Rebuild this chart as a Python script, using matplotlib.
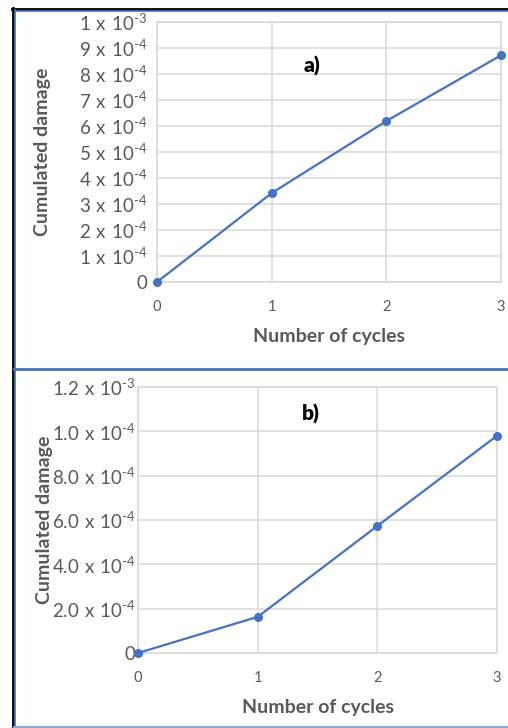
import matplotlib
matplotlib.use("Agg")
import matplotlib.pyplot as plt
from matplotlib.lines import Line2D

plt.rcParams['font.family'] = ['Lato', 'DejaVu Sans']
plt.rcParams['mathtext.fontset'] = 'custom'
plt.rcParams['mathtext.rm'] = 'Lato'
plt.rcParams['mathtext.default'] = 'regular'

# Data
cycles = [0, 1, 2, 3]
damage_a = [0.0, 3.42e-4, 6.19e-4, 8.72e-4]
damage_b = [0.0, 1.63e-4, 5.73e-4, 9.80e-4]


def sci(mant, exp):
    return r'$%s\ x\ 10^{\text{-}%d}$' % (mant, exp)


x_ticks = [0, 1, 2, 3]
y_ticks_a = [0, 1e-4, 2e-4, 3e-4, 4e-4, 5e-4, 6e-4, 7e-4, 8e-4, 9e-4, 1e-3]
y_labels_a = ['0'] + [sci(k, 4) for k in range(1, 10)] + [sci(1, 3)]
y_ticks_b = [0, 2e-4, 4e-4, 6e-4, 8e-4, 1.0e-3, 1.2e-3]
y_labels_b = ['0', sci('2.0', 4), sci('4.0', 4), sci('6.0', 4), sci('8.0', 4),
              sci('1.0', 4), sci('1.2', 3)]

W, H = 508, 728
fig = plt.figure(figsize=(W / 100, H / 100), dpi=100)

LINE = '#4472c4'
GRID = '#d9d9d9'
TEXT = '#595959'


def px_axes(left, top, right, bottom):
    return fig.add_axes([left / W, 1 - bottom / H, (right - left) / W, (bottom - top) / H])


def style(ax, y, yt, yl, ymax, label, label_pos, ylab_x, ypad):
    ax.plot(cycles, y, color=LINE, lw=1.6, marker='o', ms=5.5, clip_on=False, zorder=3)
    ax.set_xlim(0, 3)
    ax.set_ylim(0, ymax)
    ax.set_xticks(x_ticks)
    ax.set_xticklabels([str(t) for t in x_ticks])
    ax.set_yticks(yt)
    ax.set_yticklabels(yl)
    ax.grid(True, color=GRID, lw=1.1)
    ax.set_axisbelow(True)
    for s in ax.spines.values():
        s.set_color(GRID)
        s.set_linewidth(1.1)
    ax.tick_params(axis='both', length=0, colors=TEXT)
    ax.tick_params(axis='y', labelsize=13.5, pad=ypad)
    ax.tick_params(axis='x', labelsize=10.5, pad=13)
    ax.set_xlabel('Number of cycles', fontsize=14, fontweight='bold', color=TEXT, labelpad=10)
    ax.set_ylabel('Cumulated damage', fontsize=14, fontweight='bold', color=TEXT)
    ax.yaxis.set_label_coords(ylab_x, 0.5)
    ax.text(label_pos[0], label_pos[1], label, transform=ax.transAxes, fontsize=15,
            fontweight='heavy', color='black', ha='center', va='center')


ax_a = px_axes(157, 22, 501, 282)
style(ax_a, damage_a, y_ticks_a, y_labels_a, 1e-3, 'a)', (0.45, 0.83), (51 - 157) / 344, 7)

ax_b = px_axes(138, 387, 497, 653)
style(ax_b, damage_b, y_ticks_b, y_labels_b, 1.2e-3, 'b)', (0.48, 0.9), (53 - 138) / 359, 2)


# Panel frames
def fig_line(xs, ys, **kw):
    fig.add_artist(Line2D([x / W for x in xs], [1 - y / H for y in ys], transform=fig.transFigure, **kw))


fig_line([12, W], [8.5, 8.5], color='black', lw=2)
fig_line([14, W], [10.5, 10.5], color=LINE, lw=1.2)
fig_line([12.5, 12.5], [8, H], color='black', lw=2)
fig_line([14.5, 14.5], [10, H], color=LINE, lw=1.2)
fig_line([14, W], [368.5, 368.5], color=LINE, lw=2)
fig_line([14, W], [727, 727], color='#8eaadb', lw=1.5)

fig.savefig('out.png', dpi=100)
